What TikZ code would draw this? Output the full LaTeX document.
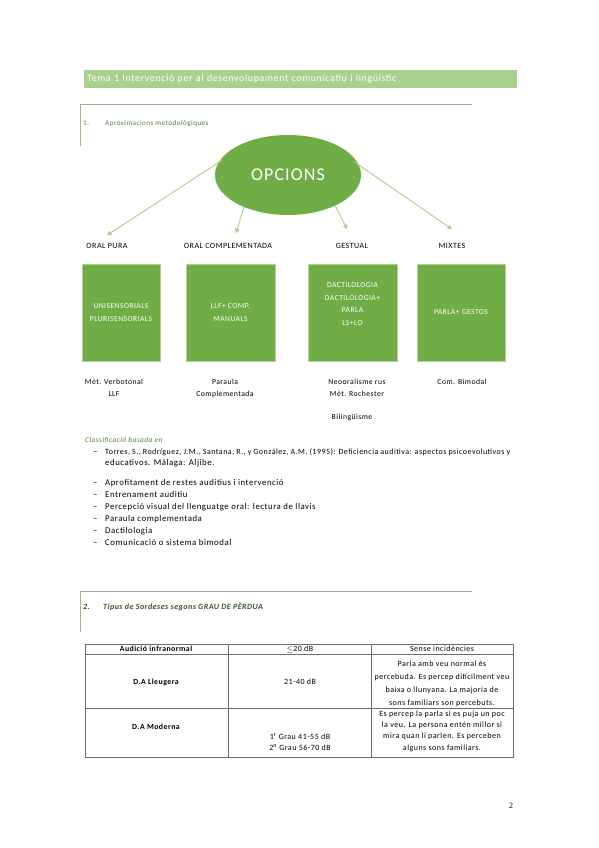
\documentclass[tikz,border=0pt]{standalone}
\usepackage{fontspec}
\setmainfont{Carlito}[LetterSpace=6]
\newfontfamily\pagefont{Liberation Serif}
\usetikzlibrary{arrows.meta,shapes.geometric}
\definecolor{OPGreen}{HTML}{70AD47}
\definecolor{OPLight}{HTML}{A9D18E}
\definecolor{OPDark}{HTML}{538135}
\definecolor{OPDeep}{HTML}{375623}
\definecolor{OPRule}{HTML}{A3B18F}
\definecolor{OPGrid}{HTML}{6B6B6B}

\tikzset{
  optbox/.style={fill=OPGreen,draw=OPGreen!55!white,line width=0.6pt,minimum height=97pt,
    text=white,align=center,font=\fontsize{7.6}{12.5}\selectfont,inner sep=0pt},
  optlabel/.style={font=\fontsize{8}{9}\selectfont,inner sep=1pt},
  undertext/.style={font=\fontsize{7.7}{12}\selectfont,align=center,inner sep=1pt},
  optarrow/.style={draw=OPLight,line width=0.9pt,-{Triangle[width=4.5pt,length=4.5pt]}},
  bodytext/.style={font=\fontsize{8.8}{12}\selectfont,anchor=west,inner sep=0pt,
    text height=6pt,text depth=2pt},
  cell/.style={font=\fontsize{8}{13}\selectfont,align=center,inner sep=0pt},
}

\begin{document}
\begin{tikzpicture}[x=1pt,y=-1pt]
  \useasboundingbox[fill=white] (0,0) rectangle (599,848);

  % title bar
  \node[fill=OPLight,anchor=north west,text width=427pt,minimum height=18pt,inner xsep=3pt,
    text=white,font=\fontsize{10}{11}\selectfont] (tema) at (84,70)
    {Tema 1 Intervenció per al desenvolupament comunicatiu i lingüístic};

  % section 1
  \draw[OPRule,line width=1pt] (472,105) -- (80,105) -- (80,146);
  \node[bodytext,text=OPDark,font=\fontsize{7.2}{9}\selectfont] (s1num) at (83,123) {1.};
  \node[bodytext,text=OPDark,font=\fontsize{7.2}{9}\selectfont] (s1) at (105,123) {Aproximacions metodològiques};

  \node[ellipse,fill=OPGreen,minimum width=146pt,minimum height=80pt,inner sep=0pt,
    text=white,font=\fontsize{18}{20}\selectfont] (opc) at (288,175) {OPCIONS};

  \node[optlabel] (oralpura) at (107,246) {ORAL PURA};
  \node[optlabel] (ocomp) at (228,246) {ORAL COMPLEMENTADA};
  \node[optlabel] (gestual) at (352,246) {GESTUAL};
  \node[optlabel] (mixtes) at (452,246) {MIXTES};

  \draw[optarrow,shorten <=-5pt] (opc.170) -- ([yshift=7pt]oralpura.north);
  \draw[optarrow] (opc.216) -- ([xshift=8pt,yshift=9pt]ocomp.north);
  \draw[optarrow] (opc.327) -- ([xshift=-5pt,yshift=13pt]gestual.north);
  \draw[optarrow,shorten <=-6pt] (opc.8) -- ([yshift=13pt]mixtes.north);

  \node[optbox,minimum width=78pt] (unis) at (121,312.5) {UNISENSORIALS\\PLURISENSORIALS};
  \node[optbox,minimum width=89pt] (llf) at (230.5,312.5) {LLF+ COMP.\\MANUALS};
  \node[optbox,minimum width=89pt] (dact) at (352.5,312.5) {DACTILOLOGIA\\DACTILOLOGIA+\\PARLA\\LS+LO\\[4pt]};
  \node[optbox,minimum width=88pt] (parla) at (461,312.5) {PARLA+ GESTOS};

  \node[undertext] (verbo) at (114,388) {Mèt. Verbotonal\\LLF};
  \node[undertext] (parcomp) at (225,388) {Paraula\\Complementada};
  \node[undertext] (neo) at (357,388) {Neooralisme rus\\Mèt. Rochester};
  \node[undertext] (bili) at (352,417) {Bilingüisme};
  \node[undertext] (bimodal) at (462,382) {Com. Bimodal};

  % classification
  \node[bodytext,text=OPDark,font=\fontsize{7.4}{12}\itshape] (classif) at (85,440) {Classificació basada en};
  \node[bodytext] (d0) at (93,452) {–};
  \node[bodytext,font=\fontsize{8}{12}\selectfont] (torres1) at (105,452) {\hbox to 405pt{Torres, S., Rodríguez, J.M., Santana, R., y González, A.M. (1995): Deficiencia auditiva: aspectos psicoevolutivos y}};
  \node[bodytext] (torres2) at (105,463) {educativos. Málaga: Aljibe.};
  \foreach \ytext/\txt in {483/Aprofitament de restes auditius i intervenció,
      495/Entrenament auditiu,
      507/Percepció visual del llenguatge oral: lectura de llavis,
      519/Paraula complementada,
      531/Dactilologia,
      543/Comunicació o sistema bimodal}{
    \node[bodytext] at (93,\ytext) {–};
    \node[bodytext] at (105,\ytext) {\txt};
  }

  % section 2
  \draw[OPRule,line width=1pt] (472,591) -- (80,591) -- (80,632);
  \node[bodytext,text=OPDeep,font=\fontsize{8}{10}\bfseries\itshape] (s2num) at (83,607) {2.};
  \node[bodytext,text=OPDeep,font=\fontsize{8}{10}\bfseries\itshape] (s2) at (103,607) {Tipus de Sordeses segons GRAU DE PÈRDUA};

  % table
  \draw[OPGrid,line width=0.9pt] (85,644) rectangle (513,757);
  \draw[OPGrid,line width=0.9pt] (85,654) -- (513,654) (85,708) -- (513,708)
    (228,644) -- (228,757) (371,644) -- (371,757);
  \node[cell,font=\fontsize{7.8}{13}\bfseries] (h1) at (156,649) {Audició infranormal};
  \node[cell] (h2) at (300,649) {$\leq$20 dB};
  \node[cell] (h3) at (442,649) {Sense incidències};
  \node[cell,font=\fontsize{7.8}{13}\bfseries] (r1a) at (156,682) {D.A Lleugera};
  \node[cell] (r1b) at (300,682) {21-40 dB};
  \node[cell] (r1c) at (442,683.5) {Parla amb veu normal és\\percebuda. Es percep difícilment veu\\baixa o llunyana. La majoria de\\sons familiars son percebuts.};
  \node[cell,font=\fontsize{7.8}{13}\bfseries] (r2a) at (156,727) {D.A Moderna};
  \node[cell,font=\fontsize{8}{10.8}\selectfont] (r2b) at (300,742) {1\textsuperscript{r} Grau 41-55 dB\\2\textsuperscript{n} Grau 56-70 dB};
  \node[cell,font=\fontsize{8}{11.3}\selectfont] (r2c) at (442,731) {Es percep la parla si es puja un poc\\la veu. La persona entén millor si\\mira quan li parlen. Es perceben\\alguns sons familiars.};

  \node[font=\pagefont\fontsize{8}{9}\selectfont,inner sep=0pt] (pagenum) at (511,806) {2};
\end{tikzpicture}
\end{document}
